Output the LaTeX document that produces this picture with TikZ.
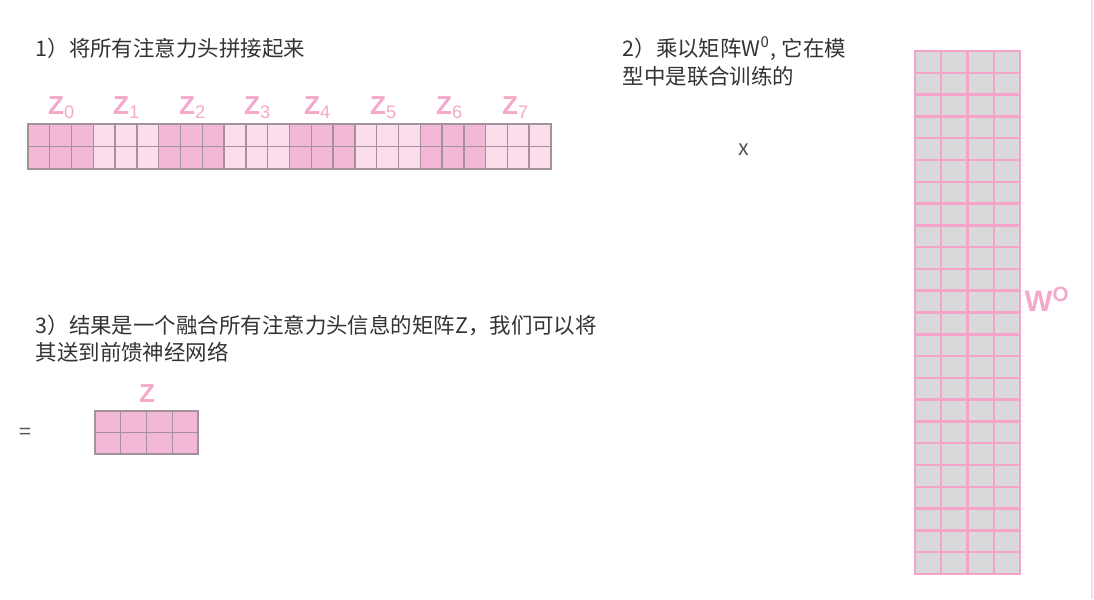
\documentclass[tikz,border=0pt]{standalone}
\usepackage{fontspec}
\setmainfont{Liberation Sans}
\newfontfamily\cjk{Noto Sans CJK SC}
\usetikzlibrary{positioning}
\definecolor{inktext}{HTML}{333333}
\definecolor{inkgray}{HTML}{555555}
\definecolor{headdark}{HTML}{F3B8D5}
\definecolor{headlight}{HTML}{FBDDEB}
\definecolor{gridmauve}{HTML}{A3929B}
\definecolor{wocell}{HTML}{D9D9DB}
\definecolor{wopink}{HTML}{F5A3C9}
\definecolor{labelpink}{HTML}{F4A8CA}
\tikzset{
  steptext/.style={anchor=base west, inner sep=0pt, text=inktext,
    font=\cjk\fontsize{6.1pt}{8pt}\selectfont},
  pinklabel/.style={anchor=base, inner sep=0pt, text=labelpink,
    font=\fontsize{7.4pt}{8pt}\selectfont\bfseries},
  headcell/.style={draw=gridmauve, line width=0.4pt},
  wcell/.style={fill=wocell, draw=wopink, line width=0.7pt}
}
\newcommand{\headlabel}[3]{%
  \node[pinklabel] (#1) at (#2,114) {Z\textsubscript{\mdseries #3}};}

\begin{document}
\begin{tikzpicture}[x=0.01cm, y=-0.01cm]
  \useasboundingbox (0,0) rectangle (1094,599);
  \draw[gray!20] (1092,0) -- (1092,599);

  % step 1: heads side by side
  \node[steptext] (step1) at (35,56) {1）将所有注意力头拼接起来};
  \foreach \c in {0,...,23} {
    \pgfmathtruncatemacro\grp{mod(div(\c,3),2)}
    \ifnum\grp=0 \def\hc{headdark}\else\def\hc{headlight}\fi
    \foreach \r in {0,1}
      \draw[headcell, fill=\hc] (28+\c*21.79,124+\r*22.5) rectangle ++(21.79,22.5);
  }
  \headlabel{z0}{62}{0}
  \headlabel{z1}{127}{1}
  \headlabel{z2}{193}{2}
  \headlabel{z3}{258}{3}
  \headlabel{z4}{318}{4}
  \headlabel{z5}{384}{5}
  \headlabel{z6}{450}{6}
  \headlabel{z7}{516}{7}

  % step 2: times the weight matrix
  \node[steptext] (step2a) at (622,56) {2）乘以矩阵W\textsuperscript{0}, 它在模};
  \node[steptext] (step2b) at (622,84) {型中是联合训练的};
  \node[steptext, anchor=base, text=inkgray] (times) at (744,155) {x};
  \foreach \c in {0,...,3}
    \foreach \r in {0,...,23}
      \draw[wcell] (915+\c*26.25,51+\r*21.79) rectangle ++(26.25,21.79);
  \node[pinklabel, anchor=base west, font=\fontsize{8.4pt}{9pt}\selectfont\bfseries]
    (wo) at (1024,311) {W\textsuperscript{O}};

  % step 3: the result
  \node[steptext] (step3a) at (35,333) {3）结果是一个融合所有注意力头信息的矩阵Z，我们可以将};
  \node[steptext] (step3b) at (35,360) {其送到前馈神经网络};
  \node[steptext, anchor=base, text=inkgray] (equals) at (25,439) {=};
  \foreach \c in {0,...,3}
    \foreach \r in {0,1}
      \draw[headcell, fill=headdark] (95+\c*25.75,411+\r*21.5) rectangle ++(25.75,21.5);
  \node[pinklabel] (zout) at (147,402) {Z};
\end{tikzpicture}
\end{document}
